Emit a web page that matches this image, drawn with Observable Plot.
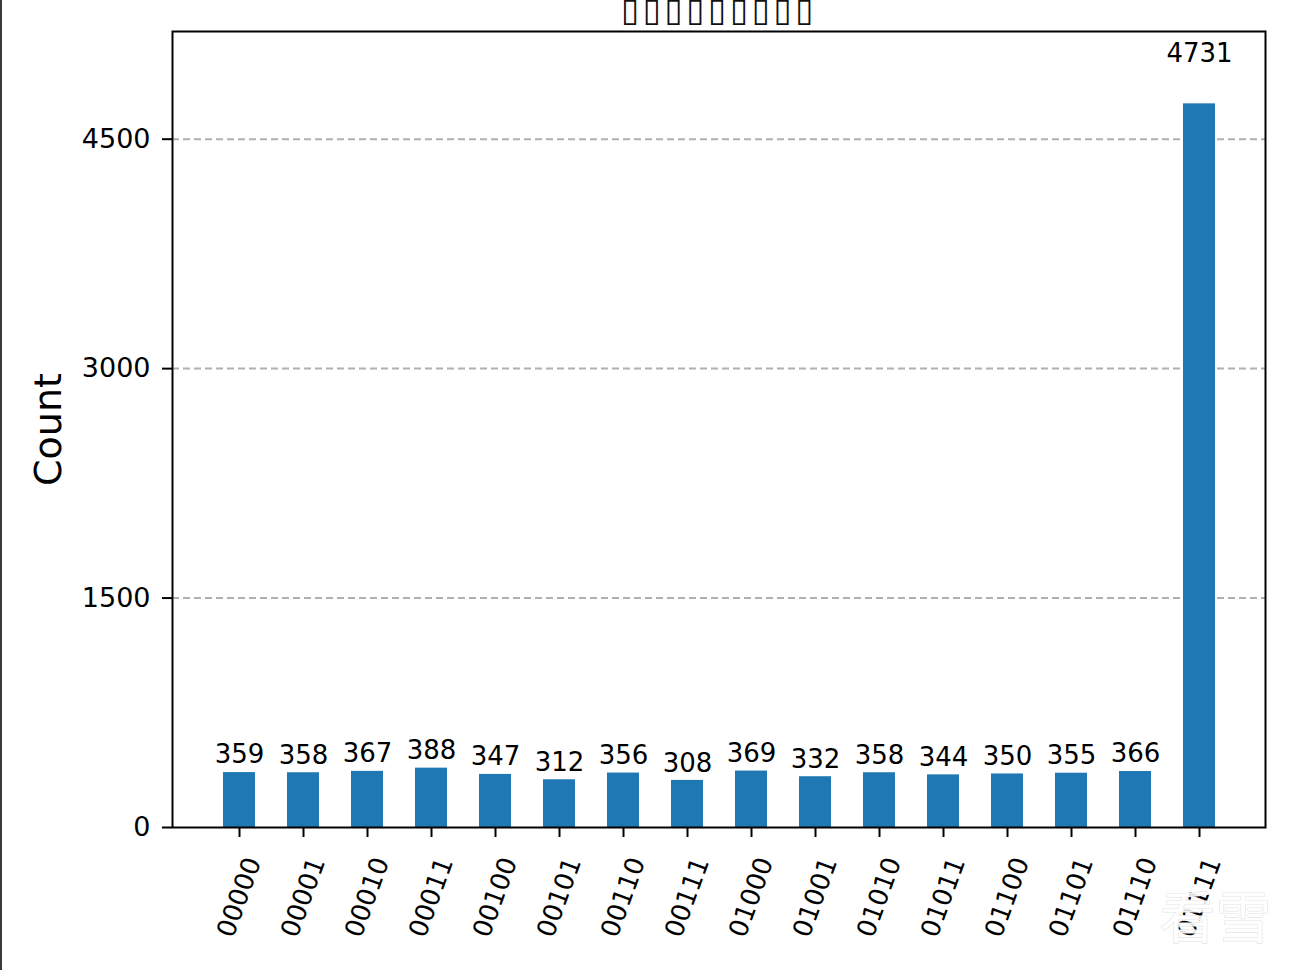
<!DOCTYPE html>
<html>
<head>
<meta charset="utf-8">
<script src="https://cdn.jsdelivr.net/npm/d3@7"></script>
<script src="https://cdn.jsdelivr.net/npm/@observablehq/plot@0.6"></script>
<style>
  html, body { margin: 0; padding: 0; background: #fff; }
  #edge { position: fixed; left: 0; top: 0; width: 2px; height: 100%; background: #3a3a3a; }
  #chart svg { display: block; }
  .chart-title text { letter-spacing: 3.6px; }
</style>
</head>
<body>
<div id="chart"></div>
<div id="edge"></div>
<script>
// Data
const states = ["00000","00001","00010","00011","00100","00101","00110","00111",
                "01000","01001","01010","01011","01100","01101","01110","01111"];
const counts = [359, 358, 367, 388, 347, 312, 356, 308, 369, 332, 358, 344, 350, 355, 366, 4731];
const yTicks = [0, 1500, 3000, 4500];
const titleText = "▯▯▯▯▯▯▯▯▯";
const yLabel = "Count";
const watermark = "看雪";

const data = states.map((s, i) => ({state: s, count: counts[i]}));

const chart = Plot.plot({
  width: 1293,
  height: 970,
  marginLeft: 172,
  marginRight: 28,
  marginTop: 31,
  marginBottom: 143,
  style: {fontFamily: "DejaVu Sans", fontSize: "26px", background: "white", color: "black"},
  x: {type: "band", domain: states, paddingInner: 0.5, paddingOuter: 0.775, align: 0.5, label: null},
  y: {domain: [0, 5204], label: null},
  marks: [
    Plot.gridY(yTicks.filter(t => t > 0), {stroke: "#b0b0b0", strokeOpacity: 1, strokeWidth: 2, strokeDasharray: "7,4"}),
    Plot.barY(data, {x: "state", y: "count", fill: "#1f77b4"}),
    Plot.text(data, {x: "state", y: d => d.count * 1.0487 + 42.5, text: d => String(d.count),
      lineAnchor: "bottom", textAnchor: "middle", fontSize: 26, fill: "black"}),
    Plot.frame({stroke: "black", strokeWidth: 2}),
    Plot.axisY({ticks: yTicks, tickFormat: d => String(d), tickSize: 10, tickPadding: 12,
      fontSize: 27, label: null, strokeWidth: 2}),
    // x tick marks at bar centres
    Plot.axisX({tickSize: 10, tickFormat: () => "", label: null, strokeWidth: 2}),
    // x tick labels, rotated
    Plot.axisX({tickSize: 0, tickPadding: 31, tickRotate: -70, dx: 14, fontSize: 26, label: null}),
    Plot.text([titleText], {frameAnchor: "top", text: d => d, dy: -11, lineAnchor: "bottom",
      fontSize: 33, fill: "#111", fontFamily: "DejaVu Sans", className: "chart-title"}),
    Plot.text([yLabel], {frameAnchor: "left", text: d => d, rotate: -90, dx: -124,
      fontSize: 38, fill: "black", textAnchor: "middle", lineAnchor: "middle"}),
    Plot.text([watermark], {frameAnchor: "bottom-right", text: d => d, dx: 6, dy: 110,
      fontSize: 56, fill: "white", fillOpacity: 0.85, stroke: "#e4e4e4", strokeWidth: 1.2,
      fontFamily: "Noto Sans CJK SC", textAnchor: "end", lineAnchor: "bottom"})
  ]
});
document.getElementById("chart").appendChild(chart);
</script>
</body>
</html>
